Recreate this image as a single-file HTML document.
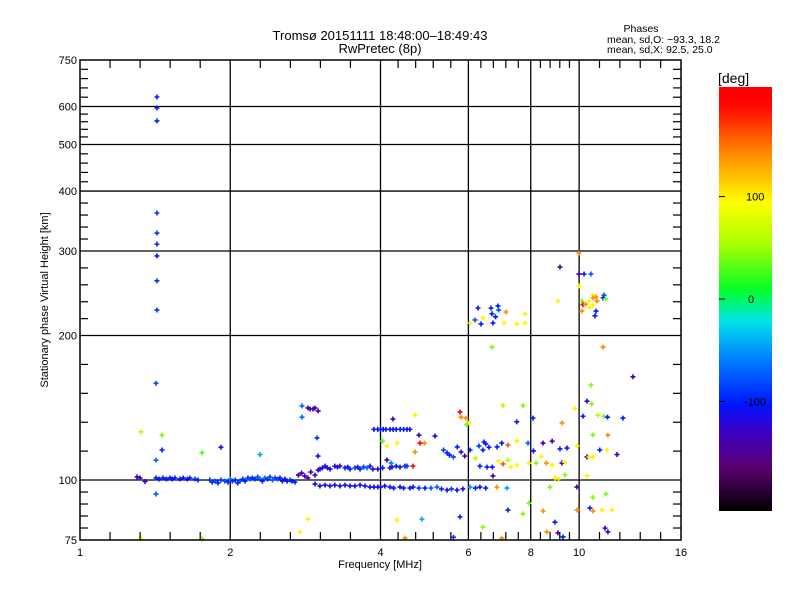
<!DOCTYPE html>
<html><head><meta charset="utf-8"><style>
body{margin:0;background:#fff;}
svg text{font-family:"Liberation Sans",sans-serif;fill:#000;}
</style></head><body>
<svg id="c" width="800" height="600" viewBox="0 0 800 600" xmlns="http://www.w3.org/2000/svg">
<rect width="800" height="600" fill="#fff"/>
<text x="380" y="40" font-size="13" text-anchor="middle">Tromsø 20151111 18:48:00–18:49:43</text>
<text x="380" y="53" font-size="13" text-anchor="middle">RwPretec (8p)</text>
<text x="641" y="32" font-size="10.5" text-anchor="middle">Phases</text>
<text x="607" y="43" font-size="10.5">mean, sd,O: −93.3, 18.2</text>
<text x="607" y="53" font-size="10.5">mean, sd,X:  92.5, 25.0</text>
<text transform="translate(48,300) rotate(-90)" font-size="11" text-anchor="middle">Stationary phase Virtual Height [km]</text>
<text x="380" y="568" font-size="11" text-anchor="middle">Frequency [MHz]</text>
<g id="grid"></g><g id="pts"></g><g id="axes"></g><g id="cbar"></g>
</svg>
<script>
const xTicks=[1,2,4,6,8,10,16];
const yTicks=[75,100,200,300,400,500,600,750];
const cbTicks=[100,0,-100];
const freq=[1.426,1.426,1.426,1.426,1.426,1.426,1.426,1.426,1.426,1.42,1.42,1.42,
1.325,1.46,1.46,1.755,1.916,2.294,2.785,2.785,2.862,2.89,2.93,2.957,3.0,2.984,2.998,2.862,2.759,1.325,1.755,4.236,4.036,4.121,4.317,4.317,
3.88,3.95,4.0,4.05,4.1,4.18,4.24,4.3,4.38,4.45,4.52,4.58,
1.301,1.319,1.35,1.42,1.44,1.466,1.49,1.515,1.53,1.55,1.586,1.61,1.64,1.66,1.70,1.723,
1.82,1.84,1.864,1.89,1.916,1.95,1.98,2.0,2.02,2.046,2.07,2.093,2.12,2.141,2.17,2.19,2.215,2.242,2.27,2.294,2.32,2.347,2.375,2.403,2.43,2.459,2.49,2.516,2.545,2.574,2.60,2.635,2.66,2.696,
2.74,2.78,2.82,2.862,2.90,2.957,3.0,
3.025,3.06,3.097,3.13,3.169,3.24,3.28,3.317,3.396,3.44,3.475,3.555,3.60,3.64,3.70,3.76,3.811,3.86,
2.957,3.025,3.097,3.169,3.24,3.317,3.396,3.475,3.555,3.64,3.724,3.811,3.88,3.95,
4.0,4.08,4.178,4.25,4.377,4.45,4.582,4.65,4.776,4.91,5.05,5.191,5.3,5.438,5.55,5.693,5.85,6.045,6.2,6.328,6.5,6.845,7.17,6.72,
3.95,4.04,4.178,4.218,4.3,4.377,4.478,4.519,4.646,4.2,4.12,
4.776,5.144,4.9,4.8,4.69,5.438,5.5,5.35,5.6,5.8,5.9,5.7,6.045,6.417,6.3,6.5,6.6,
4.69,5.772,5.8,5.933,6.016,5.95,7.04,7.72,8.083,7.5,9.24,9.8,10.56,10.37,10.6,10.18,10.9,11.22,11.4,12.24,10.66,11.42,
6.328,6.539,6.7,7.04,7.3,7.5,7.936,8.2,8.6,8.83,9.24,9.35,8.466,8.83,9.154,9.456,9.9,10.37,10.47,10.66,11.0,11.37,11.91,6.9,7.2,6.2,6.45,7.0,7.2,7.5,7.9,8.1,8.4,6.85,
8.945,9.1,9.37,8.744,9.9,10.37,
7.717,8.466,8.945,9.07,9.284,9.904,10.51,10.66,11.11,11.64,11.27,11.42,7.936,7.2,4.843,5.772,6.417,4.478,7.0,8.62,11.32,10.66,5.6,
6.272,6.66,6.879,6.9,6.69,6.8,6.72,6.36,6.185,6.045,6.417,7.072,7.136,7.792,7.792,7.506,6.69,
9.07,9.154,9.993,9.993,10.23,10.56,9.993,10.13,10.18,10.3,10.47,10.66,10.81,10.66,10.86,10.66,10.5,11.22,11.17,11.3,10.81,10.76,10.13,11.17,12.82];
const height=[628,596,560,360,327,310,293,260,226,159,110,93.5,
126,124,115.5,114,117,113,142.7,135.2,141.3,140.6,140.6,141.3,139.3,122.4,112.2,82.9,78,75.4,75.4,134,120.5,117.7,119.4,82.5,
127.5,127.5,127.5,127.5,127.5,127.5,127.5,127.5,127.5,127.5,127.5,127.5,
101.5,101,99.3,101,100.5,101,100.5,101,100.5,101,100.5,101,100.5,101,100.5,100,
100,99,99.5,98.6,100,99.5,99,100.5,99.5,100,98.6,99.5,100.5,99.5,101,100.5,101,100.5,101.5,100.5,99.5,101,100.5,101.5,100,101,100.5,101,99.5,100.5,99.5,100,99.5,99,
102.4,103.4,102,101,103.9,102.4,104.9,
105.4,106,106.9,106,105.4,106.9,106.4,106.9,106,106.4,105.4,106,106.4,105.4,106.4,106,106.9,105.4,
98.1,97.2,97.6,97.2,97.6,97.2,97.6,97.2,97.2,97.6,97.2,96.7,96.7,96.7,
96.7,97.2,96.7,96.2,96.7,96.2,96.2,96.7,96.2,96.2,96.2,96.7,95.8,95.3,95.8,95.3,95.8,96.7,96.2,96.7,96.2,96.7,96.2,102,
105.4,106,106,106.4,106.9,106.4,106.9,106.9,106.9,108.5,110.1,
124,123.5,119.4,119.4,114.4,113.9,112.7,115.5,111.7,114.4,112.2,117.2,115.5,115.5,117.7,119,117,
136.5,138.6,135.2,134.6,131.5,130.5,143,143,134.6,132.2,131.5,141,157.7,146,144,135.8,136.5,135.8,135.2,134.6,124.2,124,
106.9,106.4,106.4,108,106.4,107.4,108.5,108.5,108.5,107.4,108.5,109,119.4,120.5,116.1,116.6,117.7,111.7,111.7,111.7,115.5,115.5,113,109.5,110,111,120,119.4,118.3,120.5,119.4,115,112,117.2,
101,100.5,102.5,96.7,96.7,102,
85,86.2,81.7,77.6,76.1,86.6,87.4,86.2,86.6,86.6,79.4,78,89.5,86.6,82.9,83.8,79.8,75.7,75.7,78,93.5,92,76,
228.1,228.1,230.5,226,222,218.8,212.4,211.4,215.5,212.4,217.6,212.4,223.9,221.8,212.4,211.4,189.2,
236,277.8,297,268.6,268.6,268.6,253.6,236,232,232.5,236,242.9,240.6,239.6,236,231.6,229,242.9,239.6,238.5,224.9,219.8,224.9,189.2,164.1];
const phase=[-100,-100,-100,-90,-90,-90,-100,-90,-90,-80,-70,-75,
60,40,-100,30,-110,-45,-70,-70,-140,-140,-140,-140,-140,-90,-110,100,100,100,40,-130,30,100,100,100,
-105,-105,-110,-105,-100,-105,-110,-105,-100,-105,-110,-105,
-130,-130,-140,-100,-100,-100,-100,-110,-100,-100,-100,-100,-110,-100,-90,-100,
-90,-100,-80,-100,-90,-75,-100,-60,-90,-100,-100,-80,-90,-100,-90,-75,-100,-90,-80,-75,-100,-70,-90,-80,-75,-90,-80,-100,-110,-100,-120,-90,-100,-100,
-140,-140,-130,-140,-140,-130,-140,
-110,-120,-110,-130,-110,-120,-110,-130,-100,-110,-100,-80,-110,-100,-90,-70,-100,-120,
-110,-110,-115,-110,-115,-110,-115,-110,-110,-115,-110,-110,-110,-115,
-110,-110,-100,-110,-110,-100,-110,-100,-90,-100,-75,-70,-100,-110,-90,-110,-120,-50,-100,-110,-100,140,-45,-140,
-110,-100,-110,-120,-100,-110,-100,-90,190,-60,-140,
-120,-110,140,190,140,-100,-110,-90,-80,-120,-140,-100,-100,-100,-90,-110,-100,
100,190,140,140,100,40,60,40,-100,-100,140,100,40,-140,40,-100,60,40,-100,-100,40,140,
-100,-100,-110,160,100,100,100,40,140,100,-130,100,-140,-140,-100,-100,100,-140,100,100,-100,100,-140,100,60,60,-100,-110,160,100,-70,-110,100,-100,
100,100,40,40,-140,100,
40,140,-100,-140,-100,140,-100,140,100,100,-140,-100,40,-100,-45,-100,40,140,140,140,40,40,-100,
-100,-100,-100,-75,-100,-100,-100,-100,-75,100,100,100,140,100,100,100,40,
100,-140,140,-140,-100,-75,100,40,190,140,100,100,140,140,140,100,100,-75,-100,40,-100,-100,140,140,-140];

const X0=80,X1=681,Y0=60,Y1=540;
const xs=f=>X0+(X1-X0)*Math.log2(f)/4;
const ys=h=>Y1-(Y1-Y0)*Math.log10(h/75);
const PMIN=-207,PMAX=207;
const stops=[[0,[0,0,0]],[0.1,[90,0,110]],[0.19,[60,0,200]],[0.25,[0,20,255]],[0.37,[0,140,255]],[0.45,[0,230,230]],[0.52,[0,255,40]],[0.63,[170,255,0]],[0.73,[255,255,0]],[0.85,[255,130,0]],[0.96,[255,0,0]],[1,[255,0,0]]];
function cmap(t){t=Math.max(0,Math.min(1,t));for(let i=1;i<stops.length;i++){if(t<=stops[i][0]){const a=stops[i-1],b=stops[i];const u=(t-a[0])/(b[0]-a[0]);const c=a[1].map((v,k)=>Math.round(v+(b[1][k]-v)*u));return `rgb(${c[0]},${c[1]},${c[2]})`;}}return 'rgb(255,0,0)';}
const NS='http://www.w3.org/2000/svg';
function mk(tag,at,parent){const e=document.createElementNS(NS,tag);for(const k in at)e.setAttribute(k,at[k]);parent.appendChild(e);return e;}
const grid=document.getElementById('grid'),pts=document.getElementById('pts'),axes=document.getElementById('axes'),cb=document.getElementById('cbar');
xTicks.forEach((v,i)=>{const x=xs(v);
 if(i>0&&i<xTicks.length-1){const l=mk('line',{x1:x,y1:Y0,x2:x,y2:Y1,stroke:'#000','stroke-width':1.3},grid);
 
 }
 const t=mk('text',{x:x,y:556,'font-size':11,'text-anchor':'middle'},axes);t.textContent=v;
 
 
 if(i<xTicks.length-1){const a=x,b=xs(xTicks[i+1]);for(let k=1;k<5;k++){const mx=a+(b-a)*k/5;
  mk('line',{x1:mx,y1:Y1,x2:mx,y2:Y1-8,stroke:'#000','stroke-width':1.2},axes);
  mk('line',{x1:mx,y1:Y0,x2:mx,y2:Y0+8,stroke:'#000','stroke-width':1.2},axes);}}
});
yTicks.forEach((v,i)=>{const y=ys(v);
 if(i>0&&i<yTicks.length-1){const l=mk('line',{x1:X0,y1:y,x2:X1,y2:y,stroke:'#000','stroke-width':1.3},grid);
 
 }
 const t=mk('text',{x:77,y:y+4,'font-size':11,'text-anchor':'end'},axes);t.textContent=v;
 
 
 if(i<yTicks.length-1){const a=y,b=ys(yTicks[i+1]);for(let k=1;k<5;k++){const my=a+(b-a)*k/5;
  mk('line',{x1:X0,y1:my,x2:X0+8,y2:my,stroke:'#000','stroke-width':1.2},axes);
  mk('line',{x1:X1,y1:my,x2:X1-8,y2:my,stroke:'#000','stroke-width':1.2},axes);}}
});
const fr=mk('rect',{x:X0,y:Y0,width:X1-X0,height:Y1-Y0,fill:'none',stroke:'#000','stroke-width':1.5},axes);


for(let i=0;i<freq.length;i++){const x=xs(freq[i]),y=ys(height[i]);
 const p=mk('path',{d:`M${x-2.5} ${y}h5M${x} ${y-2.5}v5`,stroke:cmap((phase[i]-PMIN)/(PMAX-PMIN)),'stroke-width':1.6,fill:'none'},pts);
 
 
}
const defs=mk('defs',{},cb);const g=mk('linearGradient',{id:'cg',x1:0,y1:1,x2:0,y2:0},defs);
for(let k=0;k<=40;k++){mk('stop',{offset:k/40,'stop-color':cmap(k/40)},g);}
const CB0=87,CB1=511;
const r=mk('rect',{x:719,y:CB0,width:53,height:CB1-CB0,fill:'url(#cg)'},cb);


const ut=mk('text',{x:718,y:83,'font-size':14},cb);ut.textContent='[deg]';


cbTicks.forEach(v=>{const y=CB1-(CB1-CB0)*(v-PMIN)/(PMAX-PMIN);
 mk('line',{x1:719,y1:y,x2:725,y2:y,stroke:'#000'},cb);
 const t=mk('text',{x:v<0?744:(v===0?748:746),y:y+4,'font-size':11},cb);t.textContent=v;
 
 
});
</script>
</body></html>
